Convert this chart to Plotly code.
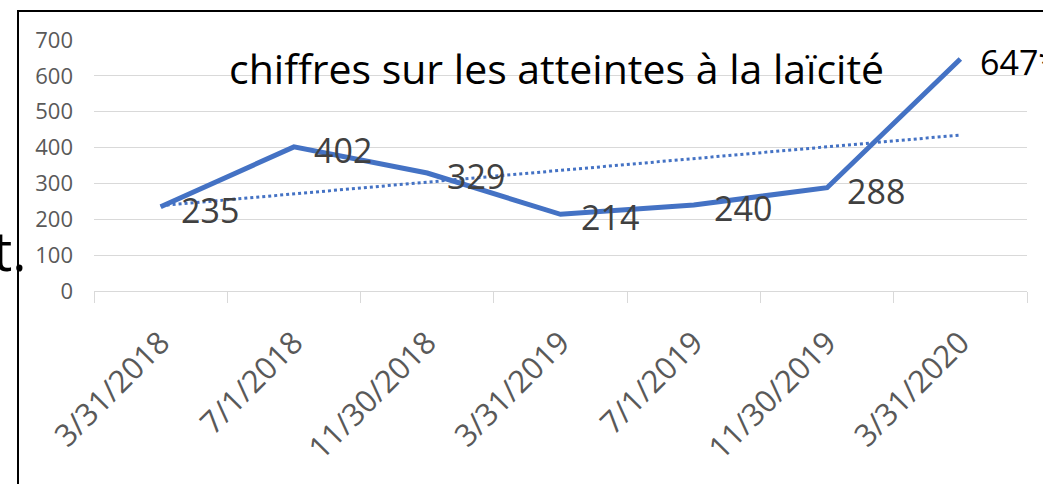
import numpy as np
import plotly.graph_objects as go

categories = ["3/31/2018", "7/1/2018", "11/30/2018", "3/31/2019", "7/1/2019", "11/30/2019", "3/31/2020"]
values = [235, 402, 329, 214, 240, 288, 647]
value_labels = ["235", "402", "329", "214", "240", "288", "647*"]
y_ticks = [0, 100, 200, 300, 400, 500, 600, 700]
title_text = "chiffres sur les atteintes à la laïcité"

W, H = 1043, 484
L, R, T, B = 94, 16, 40, 193
pw, ph = W - L - R, H - T - B

def px_x(p):
    return (p - L) / pw

def px_y(p):
    return (H - B - p) / ph

idx = np.arange(len(values))
slope, intercept = np.polyfit(idx, values, 1)
trend = slope * idx + intercept

BLUE = "#4472C4"
FONT = "Open Sans"

fig = go.Figure()
fig.add_trace(go.Scatter(x=categories, y=trend, mode="lines",
                         line=dict(color=BLUE, width=3, dash="dot"), hoverinfo="skip"))
fig.add_trace(go.Scatter(x=categories, y=values, mode="lines",
                         line=dict(color=BLUE, width=5)))

for c, v, t in zip(categories, values, value_labels):
    fig.add_annotation(x=c, y=v, text=t, showarrow=False, xanchor="left", yanchor="middle",
                       xshift=18, yshift=-3,
                       font=dict(family=FONT, size=34, color="#000000" if t.endswith("*") else "#404040"))

fig.add_annotation(xref="paper", yref="paper", x=px_x(556), y=px_y(68), text=title_text,
                   showarrow=False, xanchor="center", yanchor="middle",
                   font=dict(family=FONT, size=41, color="#000000"))

fig.add_annotation(xref="paper", yref="paper", x=px_x(28), y=px_y(250), text="t.",
                   showarrow=False, xanchor="right", yanchor="middle",
                   font=dict(family=FONT, size=54, color="#000000"))

fig.add_shape(type="rect", xref="paper", yref="paper",
              x0=px_x(18), x1=px_x(1060), y0=px_y(11), y1=px_y(520),
              line=dict(color="#000000", width=2), fillcolor="rgba(0,0,0,0)", layer="above")

fig.update_layout(
    width=W, height=H,
    margin=dict(l=L, r=R, t=T, b=B, pad=0),
    paper_bgcolor="white", plot_bgcolor="white",
    showlegend=False,
    xaxis=dict(type="category", range=[-0.5, len(categories) - 0.5],
               tickson="boundaries", ticks="outside", ticklen=11, tickcolor="#d9d9d9",
               showline=True, linecolor="#d9d9d9", linewidth=1,
               showgrid=False, tickangle=-45, ticklabelstandoff=20,
               tickfont=dict(family=FONT, size=31, color="#595959")),
    yaxis=dict(range=[0, 700], tickvals=y_ticks, showgrid=True, gridcolor="#d9d9d9",
               gridwidth=1, zeroline=False, showline=False, ticks="",
               ticklabelstandoff=20,
               tickfont=dict(family=FONT, size=22, color="#595959")),
)

fig.write_html("out.html", config={"displayModeBar": False},
               post_script="document.body.style.margin='0';document.body.style.overflow='hidden';")
